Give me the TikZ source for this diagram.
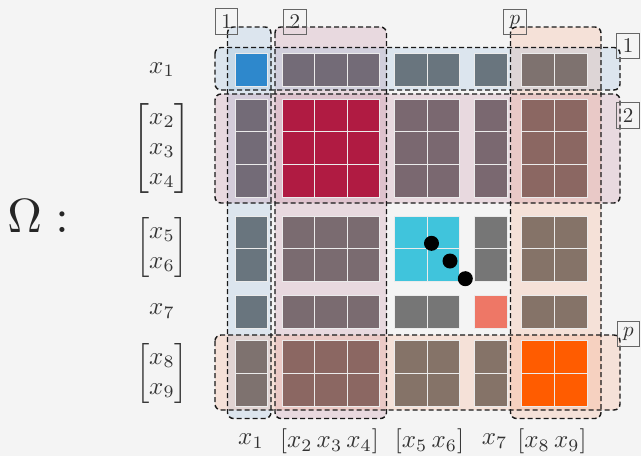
\documentclass[tikz,border=0pt]{standalone}
\usepackage{amsmath}
\definecolor{bgc}{HTML}{F4F4F4}
\definecolor{gblue}{RGB}{84,150,204}
\definecolor{gpink}{RGB}{170,64,104}
\definecolor{gpeach}{RGB}{255,118,57}
\definecolor{cBlue}{HTML}{2E88CC}
\definecolor{cCrim}{HTML}{B01B42}
\definecolor{cCyan}{HTML}{40C4DC}
\definecolor{cSalm}{HTML}{EE7766}
\definecolor{cOran}{HTML}{FF5C00}
\definecolor{cPurA}{HTML}{736B77}
\definecolor{cSlat}{HTML}{69757E}
\definecolor{cBrnA}{HTML}{7E726F}
\definecolor{cMauv}{HTML}{7A6870}
\definecolor{cMauB}{HTML}{7A6B70}
\definecolor{cRose}{HTML}{8B6762}
\definecolor{cGray}{HTML}{767676}
\definecolor{cTaup}{HTML}{857368}
\tikzset{
  grpfill/.style={fill=#1, fill opacity=0.15, rounded corners=6pt},
  grpline/.style={draw=black!90, dash pattern=on 5pt off 3pt, line width=1.4pt, rounded corners=6pt},
  cellbox/.style={fill=#1, draw=white!92!black, line width=0.9pt},
  grplab/.style={draw=black!60, line width=1pt, inner sep=2.9pt, scale=2.1, text=black!80},
  axlab/.style={scale=2.5, text=black!80},
  bigdot/.style={circle, fill=black, inner sep=0pt, minimum size=15pt}
}
\newcommand{\cellblock}[5]{%
  \foreach \ci in {1,...,#3}{\foreach \rj in {1,...,#4}{%
    \path[cellbox=#5] ({#1+(\ci-1)*32.6},{#2+(\rj-1)*32.6}) rectangle ++(32.6,32.6);}}}
\begin{document}
\begin{tikzpicture}[x=1pt,y=-1pt]
\fill[bgc] (0,0) rectangle (641,456);
\useasboundingbox (0,0) rectangle (641,456);
% group fills
\path[grpfill=gblue]  (227.5,27) rectangle (271,418.5);
\path[grpfill=gpink]  (275,27) rectangle (386.5,418.5);
\path[grpfill=gpeach] (510.5,27) rectangle (601,418.5);
\path[grpfill=gblue]  (215,47.5) rectangle (620,90);
\path[grpfill=gpink]  (215,94) rectangle (620,203);
\path[grpfill=gpeach] (215,335) rectangle (620,410);
% cells: row x1
\cellblock{235}{53.6}{1}{1}{cBlue}
\cellblock{282}{53.6}{3}{1}{cPurA}
\cellblock{394.7}{53.6}{2}{1}{cSlat}
\cellblock{474.6}{53.6}{1}{1}{cSlat}
\cellblock{521.8}{53.6}{2}{1}{cBrnA}
% rows x2-x4
\cellblock{235}{99.3}{1}{3}{cPurA}
\cellblock{282}{99.3}{3}{3}{cCrim}
\cellblock{394.7}{99.3}{2}{3}{cMauv}
\cellblock{474.6}{99.3}{1}{3}{cMauv}
\cellblock{521.8}{99.3}{2}{3}{cRose}
% rows x5-x6
\cellblock{235}{216}{1}{2}{cSlat}
\cellblock{282}{216}{3}{2}{cMauB}
\cellblock{394.7}{216}{2}{2}{cCyan}
\cellblock{474.6}{216}{1}{2}{cGray}
\cellblock{521.8}{216}{2}{2}{cTaup}
% row x7
\cellblock{235}{295.7}{1}{1}{cSlat}
\cellblock{282}{295.7}{3}{1}{cMauB}
\cellblock{394.7}{295.7}{2}{1}{cGray}
\cellblock{474.6}{295.7}{1}{1}{cSalm}
\cellblock{521.8}{295.7}{2}{1}{cTaup}
% rows x8-x9
\cellblock{235}{340.8}{1}{2}{cBrnA}
\cellblock{282}{340.8}{3}{2}{cRose}
\cellblock{394.7}{340.8}{2}{2}{cTaup}
\cellblock{474.6}{340.8}{1}{2}{cTaup}
\cellblock{521.8}{340.8}{2}{2}{cOran}
% group outlines
\path[grpline] (227.5,27) rectangle (271,418.5);
\path[grpline] (275,27) rectangle (386.5,418.5);
\path[grpline] (510.5,27) rectangle (601,418.5);
\path[grpline] (215,47.5) rectangle (620,90);
\path[grpline] (215,94) rectangle (620,203);
\path[grpline] (215,335) rectangle (620,410);
% group labels
\node[grplab] (lc1) at (226.5,21.5) {$1$};
\node[grplab] (lc2) at (294.8,22) {$2$};
\node[grplab] (lcp) at (515,22) {$p$};
\node[grplab] (lr1) at (628,46) {$1$};
\node[grplab] (lr2) at (628,115.5) {$2$};
\node[grplab] (lrp) at (628.5,334) {$p$};
% dots
\node[bigdot] (d1) at (431.5,243.3) {};
\node[bigdot] (d2) at (450,261) {};
\node[bigdot] (d3) at (465.3,278.7) {};
% left labels
\node[scale=4.8, text=black!85] (omega) at (38,216) {$\Omega:$};
\node[axlab] (l1) at (162,69.5) {$x_1$};
\node[axlab] (l2) at (162,148) {$\begin{bmatrix}x_2\\x_3\\x_4\end{bmatrix}$};
\node[axlab] (l3) at (162,247) {$\begin{bmatrix}x_5\\x_6\end{bmatrix}$};
\node[axlab] (l4) at (162,311) {$x_7$};
\node[axlab] (l5) at (162,373) {$\begin{bmatrix}x_8\\x_9\end{bmatrix}$};
% bottom labels
\node[axlab] (b1) at (251,441) {$x_1$};
\node[axlab] (b2) at (329.5,441) {$[x_2\,x_3\,x_4]$};
\node[axlab] (b3) at (429.5,441) {$[x_5\,x_6]$};
\node[axlab] (b4) at (494.5,441) {$x_7$};
\node[axlab] (b5) at (552,441) {$[x_8\,x_9]$};
\end{tikzpicture}
\end{document}
